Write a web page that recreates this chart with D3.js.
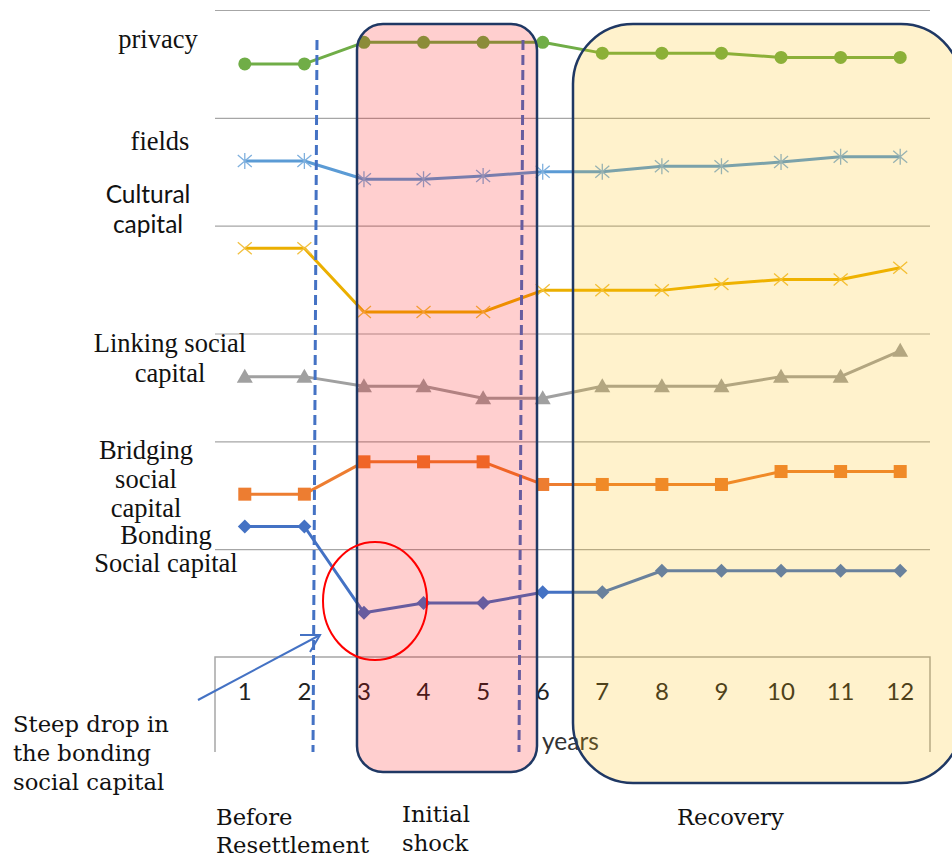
<!DOCTYPE html>
<html>
<head>
<meta charset="utf-8">
<script src="https://cdnjs.cloudflare.com/ajax/libs/d3/7.8.5/d3.min.js"></script>
<style>
  body { margin: 0; background: #fff; }
  svg { display: block; }
</style>
</head>
<body>
<div id="chart"></div>
<script>
// data
var years = [1, 2, 3, 4, 5, 6, 7, 8, 9, 10, 11, 12];
var privacy  = [5.50, 5.50, 5.70, 5.70, 5.70, 5.70, 5.60, 5.60, 5.60, 5.56, 5.56, 5.56];
var fields   = [4.60, 4.60, 4.43, 4.43, 4.46, 4.50, 4.50, 4.55, 4.55, 4.59, 4.64, 4.64];
var cultural = [3.79, 3.79, 3.20, 3.20, 3.20, 3.40, 3.40, 3.40, 3.46, 3.50, 3.50, 3.61];
var linking  = [2.60, 2.60, 2.51, 2.51, 2.40, 2.40, 2.51, 2.51, 2.51, 2.60, 2.60, 2.84];
var bridging = [1.51, 1.51, 1.81, 1.81, 1.81, 1.60, 1.60, 1.60, 1.60, 1.72, 1.72, 1.72];
var bonding  = [1.21, 1.21, 0.41, 0.50, 0.50, 0.60, 0.60, 0.80, 0.80, 0.80, 0.80, 0.80];
var gridTicks = [1, 2, 3, 4, 5, 6];

var seriesNames = ["privacy", "fields", "Cultural capital", "Linking social capital", "Bridging social capital", "Bonding Social capital"];
var seriesValues = [privacy, fields, cultural, linking, bridging, bonding];

var phaseNames = ["Before Resettlement", "Initial shock", "Recovery"];
var annotation = "Steep drop in the bonding social capital";

var w = 952, h = 859;
var padL = 215, padR = 930, padT = 10, padB = 657;

var svg = d3.select("#chart").append("svg")
  .attr("width", w)
  .attr("height", h);

var x = d3.scaleBand().domain(years).range([padL, padR]);
var cx = (d) => x(d) + x.bandwidth() / 2;
var y = d3.scaleLinear().domain([0, 6]).range([padB, padT]);

// gridlines
var grid = d3.axisLeft(y).tickValues(gridTicks).tickSize(-(padR - padL)).tickFormat("");
svg.append("g")
  .attr("transform", "translate(" + padL + ",0)")
  .call(grid)
  .call(g => g.select(".domain").remove())
  .call(g => g.selectAll("line").attr("stroke", "#a6a6a6").attr("stroke-width", 1.2));

// category axis with box
var xAxis = d3.axisBottom(x).tickSize(0).tickPadding(26);
svg.append("g")
  .attr("transform", "translate(0," + padB + ")")
  .call(xAxis)
  .call(g => g.select(".domain").remove())
  .call(g => g.selectAll("text")
    .attr("font-family", "Lato, sans-serif")
    .attr("font-size", 24)
    .attr("fill", "#222"));

svg.append("path")
  .attr("d", "M" + padL + "," + 752 + "V" + padB + "H" + padR + "V" + 752)
  .attr("fill", "none")
  .attr("stroke", "#a6a6a6")
  .attr("stroke-width", 1.5);

svg.append("text")
  .attr("x", 542).attr("y", 750)
  .attr("font-family", "Lato, sans-serif")
  .attr("font-size", 24.5)
  .attr("fill", "#333")
  .text("years");

// series
var colors = ["#70ad47", "#5b9bd5", "#ebaf00", "#a0a0a0", "#ed7d31", "#4472c4"];
var markColors = ["#70ad47", "#7fb0de", "#f2c040", "#a0a0a0", "#ed7d31", "#4472c4"];
var shapes = ["circle", "star", "x", "triangle", "square", "diamond"];

var line = d3.line()
  .x((d, i) => cx(years[i]))
  .y((d) => y(d));

seriesValues.forEach((vals, s) => {
  svg.append("path")
    .datum(vals)
    .attr("d", line)
    .attr("fill", "none")
    .attr("stroke", colors[s])
    .attr("stroke-width", 3)
    .attr("stroke-linejoin", "round");

  var marks = svg.append("g").selectAll("g")
    .data(vals)
    .enter()
    .append("g")
    .attr("transform", (d, i) => "translate(" + cx(years[i]) + "," + y(d) + ")");

  if (shapes[s] == "circle") {
    marks.append("circle").attr("r", 6.5).attr("fill", markColors[s]);
  } else if (shapes[s] == "star") {
    marks.append("path")
      .attr("d", "M0,-8V8M-7,-6L7,6M-7,6L7,-6")
      .attr("stroke", markColors[s]).attr("stroke-width", 1.3).attr("fill", "none");
  } else if (shapes[s] == "x") {
    marks.append("path")
      .attr("d", "M-7,-6L7,6M-7,6L7,-6")
      .attr("stroke", markColors[s]).attr("stroke-width", 1.3).attr("fill", "none");
  } else if (shapes[s] == "triangle") {
    marks.append("path").attr("d", "M0,-8L8,6H-8Z").attr("fill", markColors[s]);
  } else if (shapes[s] == "square") {
    marks.append("rect").attr("x", -6.5).attr("y", -6.5).attr("width", 13).attr("height", 13).attr("fill", markColors[s]);
  } else {
    marks.append("path").attr("d", "M0,-7L7,0L0,7L-7,0Z").attr("fill", markColors[s]);
  }
});

// dashed phase separators
[[317, 313], [523, 519]].forEach((p) => {
  svg.append("line")
    .attr("x1", p[0]).attr("y1", 40)
    .attr("x2", p[1]).attr("y2", 752)
    .attr("stroke", "#4472c4")
    .attr("stroke-width", 3)
    .attr("stroke-dasharray", "10,5");
});

// phase boxes (translucent, on top of lines)
svg.append("rect")
  .attr("x", 357).attr("y", 24)
  .attr("width", 180).attr("height", 748)
  .attr("rx", 26).attr("ry", 26)
  .attr("fill", "rgb(255,0,0)").attr("fill-opacity", 0.19)
  .attr("stroke", "#1f3864").attr("stroke-width", 2.5);

svg.append("rect")
  .attr("x", 573).attr("y", 24)
  .attr("width", 388).attr("height", 759)
  .attr("rx", 60).attr("ry", 60)
  .attr("fill", "rgb(255,192,0)").attr("fill-opacity", 0.2)
  .attr("stroke", "#1f3864").attr("stroke-width", 2.5);

// red circle round the drop
svg.append("ellipse")
  .attr("cx", 375).attr("cy", 601)
  .attr("rx", 52).attr("ry", 59)
  .attr("fill", "none")
  .attr("stroke", "#ff0000")
  .attr("stroke-width", 2);

// arrow
svg.append("path")
  .attr("d", "M198,700L320,635")
  .attr("stroke", "#4472c4").attr("stroke-width", 2).attr("fill", "none");
svg.append("path")
  .attr("d", "M300,635L320,635L310,652")
  .attr("stroke", "#4472c4").attr("stroke-width", 2).attr("fill", "none");

// series labels on the left
var labelLines = [["privacy"], ["fields"], ["Cultural", "capital"], ["Linking social", "capital"], ["Bridging", "social", "capital"], ["Bonding", "Social capital"]];
var labelPos = [[158, 48], [160, 150], [148, 203], [170, 352], [146, 459], [166, 544]];
var labelGap = [30, 30, 30, 30, 29, 28];

labelLines.forEach((lines, s) => {
  var sans = s == 2;
  svg.append("text")
    .attr("text-anchor", "middle")
    .attr("font-family", sans ? "Lato, sans-serif" : "'Liberation Serif', serif")
    .attr("font-size", sans ? 24.5 : 26.5)
    .attr("fill", "#111")
    .selectAll("tspan")
    .data(lines)
    .enter()
    .append("tspan")
    .attr("x", labelPos[s][0])
    .attr("y", (d, i) => labelPos[s][1] + i * labelGap[s])
    .text((d) => d);
});

// annotation + phase names
function block(lines, x0, y0, gap) {
  svg.append("text")
    .attr("font-family", "'DejaVu Serif', serif")
    .attr("font-size", 22.7)
    .attr("fill", "#111")
    .selectAll("tspan")
    .data(lines)
    .enter()
    .append("tspan")
    .attr("x", x0)
    .attr("y", (d, i) => y0 + i * gap)
    .text((d) => d);
}
block(["Steep drop in", "the bonding", "social capital"], 13, 732, 29);
block(["Before", "Resettlement"], 216, 825, 28);
block(["Initial", "shock"], 402, 822, 29);
block([phaseNames[2]], 677, 825, 28);
</script>
</body>
</html>
